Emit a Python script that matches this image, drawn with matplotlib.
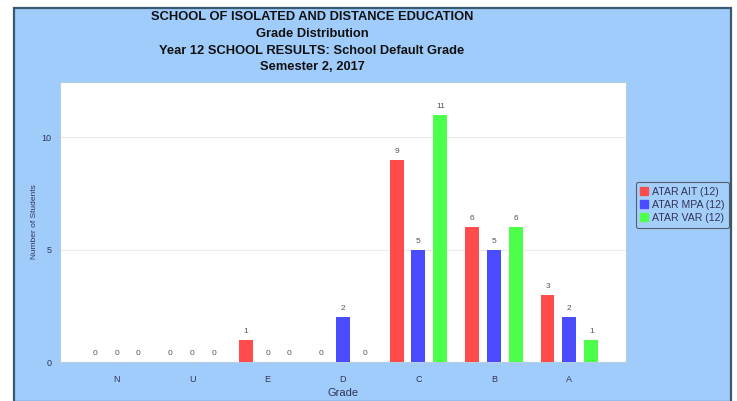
import matplotlib
matplotlib.use("Agg")
import matplotlib.pyplot as plt
import numpy as np
from matplotlib.patches import Rectangle
from matplotlib.lines import Line2D

plt.rcParams["font.family"] = ["Liberation Sans", "DejaVu Sans"]

# Grade distribution data
grades = ["N", "U", "E", "D", "C", "B", "A"]
series_names = ["ATAR AIT (12)", "ATAR MPA (12)", "ATAR VAR (12)"]
ait = [0, 0, 1, 0, 9, 6, 3]
mpa = [0, 0, 0, 2, 5, 5, 2]
var = [0, 0, 0, 0, 11, 6, 1]
colors = ["#ff4b4b", "#4b4bff", "#4bff4b"]
title_lines = [
    "SCHOOL OF ISOLATED AND DISTANCE EDUCATION",
    "Grade Distribution",
    "Year 12 SCHOOL RESULTS: School Default Grade",
    "Semester 2, 2017",
]

W, H = 737, 401
fig = plt.figure(figsize=(W / 100, H / 100), dpi=100)
fig.patch.set_facecolor("white")

def fx(px):
    return px / W

def fy(py):
    return 1 - py / H

# Panel background behind everything
bg = Rectangle((fx(14), fy(402)), fx(731) - fx(14), fy(8) - fy(402),
               transform=fig.transFigure, facecolor="#9fccfb",
               edgecolor="#3a5870", linewidth=1.6, zorder=-10)
fig.add_artist(bg)

ax = fig.add_axes([fx(60), fy(362), fx(626) - fx(60), fy(82) - fy(362)])
ax.set_zorder(1)
ax.set_facecolor("white")

x = np.arange(len(grades))
offset = 0.29
width = 0.185
for i, (vals, name, c) in enumerate(zip([ait, mpa, var], series_names, colors)):
    pos = x + (i - 1) * offset
    bars = ax.bar(pos, vals, width=width, color=c, label=name, zorder=3)
    for b, v in zip(bars, vals):
        ax.text(b.get_x() + b.get_width() / 2, v + 0.22, str(v),
                ha="center", va="bottom", fontsize=6, color="#555555", zorder=4)

ax.set_xlim(-0.75, 6.75)
ax.set_ylim(0, 12.45)
ax.set_xticks(x)
ax.set_xticklabels(grades, fontsize=6.5, color="#333355")
ax.set_yticks([0, 5, 10])
ax.set_yticklabels(["0", "5", "10"], fontsize=6.5, color="#333355")
ax.tick_params(axis="x", length=3, color="#b8c8d8", pad=6)
ax.tick_params(axis="y", length=3, color="#b8c8d8", pad=3)
ax.yaxis.grid(True, color="#ececec", linewidth=0.8, zorder=0)
ax.set_axisbelow(True)
for s in ax.spines.values():
    s.set_color("#b8cce0")
    s.set_linewidth(0.8)

ax.set_xlabel("Grade", fontsize=8, color="#333355", labelpad=3)
ax.set_ylabel("Number of Students", fontsize=6, color="#333355", labelpad=3)

# Title
for k, line in enumerate(title_lines):
    fig.text(fx(312), fy(17.5 + k * 16.5), line, ha="center", va="center",
             fontsize=9.3, fontweight="bold", color="#111111")

# Legend
handles = [Line2D([], [], marker="s", linestyle="none", markersize=5.5,
                  markerfacecolor=c, markeredgecolor=c) for c in colors]
leg = fig.legend(handles, series_names, loc="upper left",
                 bbox_to_anchor=(fx(636), fy(182)), fontsize=7.6,
                 frameon=True, handletextpad=0.35, borderpad=0.45,
                 labelspacing=0.3, handlelength=0.7, borderaxespad=0,
                 labelcolor="#333355")
leg.get_frame().set_facecolor("#a6d0fb")
leg.get_frame().set_edgecolor("#444444")
leg.get_frame().set_linewidth(0.8)

fig.savefig("out.png", dpi=100, facecolor=fig.get_facecolor())
